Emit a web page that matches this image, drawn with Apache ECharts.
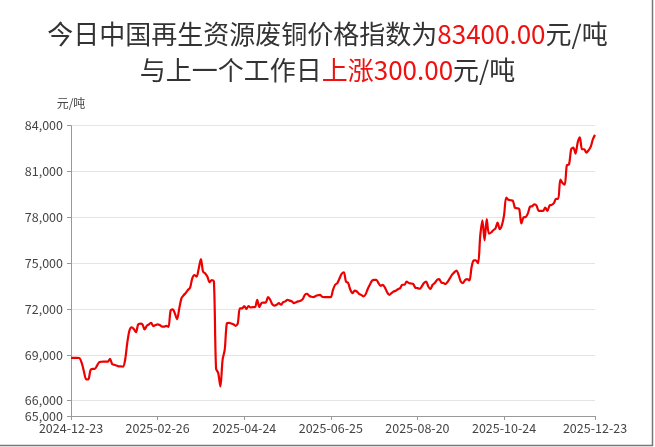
<!DOCTYPE html>
<html>
<head>
<meta charset="utf-8">
<script src="https://cdn.jsdelivr.net/npm/echarts@6/dist/echarts.min.js"></script>
<style>
html,body{margin:0;padding:0;background:#fff;}
#c{width:655px;height:447px;}
</style>
</head>
<body>
<div id="c"></div>
<script>
// ---- data ----
const titleLine1 = '今日中国再生资源废铜价格指数为';
const titleValue = '83400.00';
const titleLine2 = '与上一个工作日';
const titleChange = '上涨300.00';
const unitText = '元/吨';
const startDate = '2024-12-23';
const endDate = '2025-12-23';
const holidays = ['2025-01-01','2025-01-28','2025-01-29','2025-01-30','2025-01-31','2025-02-03','2025-02-04',
  '2025-04-04','2025-05-01','2025-05-02','2025-05-05','2025-06-02','2025-09-03',
  '2025-10-01','2025-10-02','2025-10-03','2025-10-06','2025-10-07','2025-10-08'];
const xLabelDates = ['2024-12-23','2025-02-26','2025-04-24','2025-06-25','2025-08-20','2025-10-24','2025-12-23'];
const yTickValues = [65000, 66000, 69000, 72000, 75000, 78000, 81000, 84000];
const prices = [
  68800,68800,68800,68800,68780,68450,67900,67400,67400,68000,
  68080,68080,68300,68520,68550,68560,68560,68560,68740,68400,
  68350,68300,68250,68250,68230,68680,69800,70600,70800,70700,
  70480,70990,71050,71000,70660,70900,71000,71100,70880,70950,
  71000,70950,70850,70850,70900,70830,71900,71980,71700,71330,
  72040,72700,72900,73050,73250,73400,74010,74230,74120,74660,
  75270,74440,74330,74120,73750,73900,73800,68100,67800,66930,
  68680,69340,71070,71100,71050,71000,70900,71050,72040,72040,
  72200,72000,72200,72100,72130,72130,72610,72130,72390,72420,
  72430,72780,72610,72300,72220,72280,72390,72280,72450,72500,
  72610,72550,72500,72390,72450,72500,72540,72650,72930,73000,
  72870,72800,72780,72850,72900,72930,72800,72780,72780,72780,
  72780,73260,73590,73700,74000,74300,74410,73800,73700,73260,
  73040,73200,73150,73000,72930,72830,72950,73300,73590,73850,
  73910,73910,73700,73520,73590,73400,73100,72930,73040,73150,
  73200,73300,73370,73590,73590,73800,73700,73670,73650,73400,
  73370,73330,73480,73700,73800,73480,73300,73590,73700,73900,
  73960,73740,73700,73650,73800,74020,74250,74400,74520,74240,
  73800,73700,73900,73960,73870,74740,75180,75180,75000,76800,
  77800,76500,77890,76940,77010,77160,77270,77650,77230,77490,
  78150,79300,79150,79120,79100,78640,78600,78550,77600,78000,
  78020,78260,78700,78730,78860,78770,78420,78420,78420,78640,
  78420,78770,78820,78930,79210,79210,80470,80250,80140,81420,
  81460,82460,82570,82170,82900,83230,82460,82460,82240,82390,
  82610,83100,83400
];

// ---- trading-day categories ----
function buildDates(s, e, hol) {
  const out = [];
  const hs = new Set(hol);
  const p = x => x.split('-').map(Number);
  const [sy, sm, sd] = p(s), [ey, em, ed] = p(e);
  let t = Date.UTC(sy, sm - 1, sd);
  const end = Date.UTC(ey, em - 1, ed);
  while (t <= end) {
    const d = new Date(t);
    const wd = d.getUTCDay();
    const str = d.getUTCFullYear() + '-' + String(d.getUTCMonth() + 1).padStart(2, '0') + '-' + String(d.getUTCDate()).padStart(2, '0');
    if (wd !== 0 && wd !== 6 && !hs.has(str)) out.push(str);
    t += 86400000;
  }
  return out;
}
const dates = buildDates(startDate, endDate, holidays);
const labelSet = new Set(xLabelDates);
const showIdx = (i, v) => labelSet.has(dates[i]);

const chart = echarts.init(document.getElementById('c'));
const font = '"Noto Sans CJK SC", "Noto Sans", sans-serif';
chart.setOption({
  animation: false,
  backgroundColor: '#fff',
  textStyle: { fontFamily: font },
  title: {
    text: '{a|' + titleLine1 + '}{r|' + titleValue + '}{a|元/吨}\n{a|' + titleLine2 + '}{r|' + titleChange + '}{a|元/吨}',
    left: 'center',
    top: 11,
    textStyle: {
      fontWeight: 'normal',
      rich: {
        a: { fontSize: 26, color: '#333', lineHeight: 36, fontFamily: font, fontWeight: 'normal' },
        r: { fontSize: 26, color: '#ee1111', lineHeight: 36, fontFamily: font, fontWeight: 'normal' }
      }
    }
  },
  grid: { left: 71, right: 60, top: 125.7, bottom: 31, containLabel: false },
  xAxis: {
    type: 'category',
    data: dates,
    boundaryGap: false,
    axisLine: { lineStyle: { color: '#999' } },
    axisTick: { show: true, interval: showIdx, length: 4, lineStyle: { color: '#999' } },
    axisLabel: { interval: showIdx, color: '#444', fontSize: 12.5, margin: 6, fontFamily: font },
    splitLine: { show: false }
  },
  yAxis: {
    type: 'value',
    min: 65000,
    max: 84000,
    name: unitText,
    nameLocation: 'end',
    nameGap: 16,
    nameTextStyle: { color: '#444', fontSize: 12, fontFamily: font, align: 'center' },
    axisLine: { show: true, lineStyle: { color: '#999' } },
    axisTick: { show: true, length: 4, customValues: yTickValues, lineStyle: { color: '#999' } },
    axisLabel: {
      customValues: yTickValues, color: '#444', fontSize: 12.5, margin: 8, fontFamily: font,
      formatter: v => Number(v).toLocaleString('en-US')
    },
    splitLine: { show: true, lineStyle: { color: '#e4e4e4' } }
  },
  series: [{
    type: 'line',
    data: prices,
    showSymbol: false,
    smooth: 0.3,
    lineStyle: { color: '#ee0000', width: 2.2 },
    itemStyle: { color: '#ee0000' }
  }],
  graphic: [
    { type: 'line', shape: { x1: 652.5, y1: 0, x2: 652.5, y2: 446 }, style: { stroke: '#777', lineWidth: 1.5 }, silent: true },
    { type: 'line', shape: { x1: 0, y1: 445.5, x2: 653, y2: 445.5 }, style: { stroke: '#777', lineWidth: 1.5 }, silent: true }
  ]
});
</script>
</body>
</html>
